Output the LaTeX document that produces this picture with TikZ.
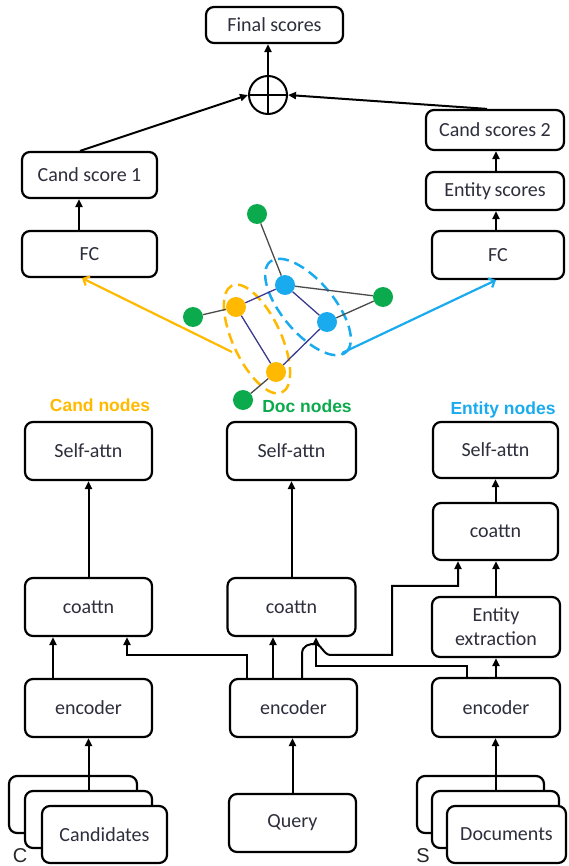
\documentclass[tikz,border=0pt]{standalone}
\usepackage{fontspec}
\setmainfont{Carlito}
\newfontfamily\labelfont{Liberation Sans}
\usetikzlibrary{arrows.meta,shapes.geometric,calc}

\definecolor{txt}{HTML}{2E2E3C}
\definecolor{candc}{HTML}{FFB900}
\definecolor{entc}{HTML}{1AABEF}
\definecolor{docc}{HTML}{0BAA4C}
\definecolor{edgegray}{HTML}{4A4A4A}
\definecolor{edgenavy}{HTML}{3B3B8F}

\begin{document}
\begin{tikzpicture}[x=1pt,y=-1pt,
  box/.style={draw, line width=2.2pt, rounded corners=8pt, fill=white, text=txt,
              inner sep=0pt, align=center, font=\fontsize{20}{24}\selectfont},
  arr/.style={line width=2pt, -{Triangle[length=8pt,width=7pt]}},
  colarr/.style={line width=2.2pt, draw=#1, -{Straight Barb[length=5pt,width=10pt]}},
  dot/.style={circle, fill=#1, inner sep=0pt, minimum size=20pt},
  gedge/.style={line width=1.3pt, draw=edgegray},
  nedge/.style={line width=1.3pt, draw=edgenavy},
  group/.style={ellipse, draw=#1, line width=2.5pt, dash pattern=on 11pt off 6pt},
  tag/.style={font=\labelfont\bfseries\fontsize{17.5}{20}\selectfont, text=#1},
  corner/.style={font=\labelfont\fontsize{20}{22}\selectfont, text=black!85}
]
\useasboundingbox (0,0) rectangle (569,866);

% ---------- output head ----------
\node[box, minimum width=137pt, minimum height=36pt] (final) at (274.5,25) {Final scores};
\node[circle, draw, line width=2pt, minimum size=38pt, inner sep=0pt] (plus) at (268,95) {};
\draw[line width=2pt] (plus.north) -- (plus.south) (plus.west) -- (plus.east);

\node[box, minimum width=135pt, minimum height=46pt] (cs1) at (89.5,175) {Cand score 1};
\node[box, minimum width=135pt, minimum height=46pt] (fcL) at (89.5,254) {FC};
\node[box, minimum width=138pt, minimum height=40pt] (cs2) at (495,130) {Cand scores 2};
\node[box, minimum width=138pt, minimum height=38pt] (ents) at (495,191) {Entity\,scores};
\node[box, minimum width=132pt, minimum height=48pt] (fcR) at (498,255) {FC};

% ---------- node graph ----------
\node[group=candc, minimum width=118pt, minimum height=48pt, rotate=-65] (candgrp) at (257,339) {};
\node[group=entc, minimum width=118pt, minimum height=52pt, rotate=-50] (entgrp) at (308,307) {};

\node[dot=docc] (gTop) at (257,214) {};
\node[dot=entc] (b1) at (285,285) {};
\node[dot=docc] (gRight) at (383,297) {};
\node[dot=candc] (o1) at (236,307) {};
\node[dot=docc] (gLeft) at (193,317) {};
\node[dot=entc] (b2) at (327,322) {};
\node[dot=candc] (o2) at (276,372) {};
\node[dot=docc] (gBot) at (243,400) {};

\draw[gedge] (gTop) -- (b1);
\draw[gedge] (b1) -- (gRight);
\draw[gedge] (b2) -- (gRight);
\draw[gedge] (o1) -- (gLeft);
\draw[gedge] (o2) -- (gBot);
\draw[nedge] (b1) -- (o1);
\draw[nedge] (b1) -- (b2);
\draw[nedge] (o1) -- (o2);
\draw[nedge] (b2) -- (o2);

\coordinate (gOr) at (232,352);
\coordinate (gBl) at (342,353);
\draw[colarr=candc] (gOr) -- ([xshift=-7.5pt]fcL.south);
\draw[colarr=entc] (gBl) -- ([xshift=-2pt]fcR.south);

% ---------- group labels ----------
\node[tag=candc] (lblCand) at (100,405) {Cand nodes};
\node[tag=docc] (lblDoc) at (307,406) {Doc nodes};
\node[tag=entc] (lblEnt) at (503,410) {Entity nodes};

% ---------- encoder columns ----------
\node[box, minimum width=127pt, minimum height=58pt] (selfL) at (88.5,451) {Self-attn};
\node[box, minimum width=127pt, minimum height=58pt] (coL) at (88.5,607) {coattn};
\node[box, minimum width=127pt, minimum height=58pt] (encL) at (88.5,708) {encoder};

\node[box, minimum width=129pt, minimum height=58pt] (selfM) at (291.5,451) {Self-attn};
\node[box, minimum width=128pt, minimum height=58pt] (coM) at (291.5,607) {coattn};
\node[box, minimum width=127pt, minimum height=58pt] (encM) at (293.5,708) {encoder};

\node[box, minimum width=125pt, minimum height=56pt] (selfR) at (495.5,450) {Self-attn};
\node[box, minimum width=125pt, minimum height=57pt] (coR) at (495.5,531.5) {coattn};
\node[box, minimum width=128pt, minimum height=60pt] (entx) at (496,627) {Entity\\extraction};
\node[box, minimum width=128pt, minimum height=59pt] (encR) at (496,707.5) {encoder};

% ---------- inputs ----------
\node[box, minimum width=128pt, minimum height=57pt] (candA) at (73,804.5) {};
\node[box, minimum width=127pt, minimum height=57pt] (candB) at (88.5,819.5) {};
\node[box, minimum width=125pt, minimum height=57pt] (cand) at (104.5,834.5) {Candidates};

\node[box, minimum width=127pt, minimum height=58pt] (query) at (292.5,823) {Query};

\node[box, minimum width=127pt, minimum height=57pt] (docA) at (480.5,804.5) {};
\node[box, minimum width=127pt, minimum height=57pt] (docB) at (495.5,819.5) {};
\node[box, minimum width=119pt, minimum height=57pt] (doc) at (506.5,834.5) {Documents};

\node[corner] (lblC) at (20,856) {C};
\node[corner] (lblS) at (423,856) {S};

% ---------- connectors ----------
\draw[arr] (plus.north) -- (plus.north |- final.south);
\draw[arr] ([xshift=-9.5pt]cs1.north) -- (plus.west);
\draw[arr] ([xshift=-8pt]cs2.north) -- (plus.east);
\draw[arr] ([xshift=-10.5pt]fcL.north) -- ([xshift=-10.5pt]cs1.south);
\draw[arr] ([xshift=-2pt]fcR.north) -- ([xshift=-2pt]fcR.north |- ents.south);
\draw[arr] ([xshift=1pt]ents.north) -- ([xshift=1pt]ents.north |- cs2.south);

\draw[arr] (coL.north) -- (selfL.south);
\draw[arr] (coM.north) -- (selfM.south);
\draw[arr] (coR.north) -- (selfR.south);
\draw[arr] (entx.north) -- (entx.north |- coR.south);
\draw[arr] (encR.north) -- (entx.south);

\draw[arr] ([xshift=-35.5pt]encL.north) -- ([xshift=-35.5pt]encL.north |- coL.south);
\draw[arr] ([xshift=-46.5pt]encM.north) -- ++(0,23pt) -| ([xshift=38.5pt]coL.south);
\draw[arr] ([xshift=-20.5pt]encM.north) -- ([xshift=-20.5pt]encM.north |- coM.south);
\draw[arr] ([xshift=-29pt]encR.north) -- ++(0,11pt) -| ([xshift=24.5pt]coM.south);
\draw[arr] ([xshift=8.5pt]encM.north) -- ++(0,24pt)
  .. controls +(0,9pt) and +(-5pt,0) .. ++(13pt,10pt)
  .. controls +(6pt,0) and +(-6pt,0) .. ++(15pt,-11pt)
  -- ++(62pt,0) -- ++(0,69pt) -| ([xshift=-37.5pt]coR.south);

\draw[arr] (candB.north) -- (candB.north |- encL.south);
\draw[arr] (query.north) -- (query.north |- encM.south);
\draw[arr] (docB.north) -- (docB.north |- encR.south);
\end{tikzpicture}
\end{document}
